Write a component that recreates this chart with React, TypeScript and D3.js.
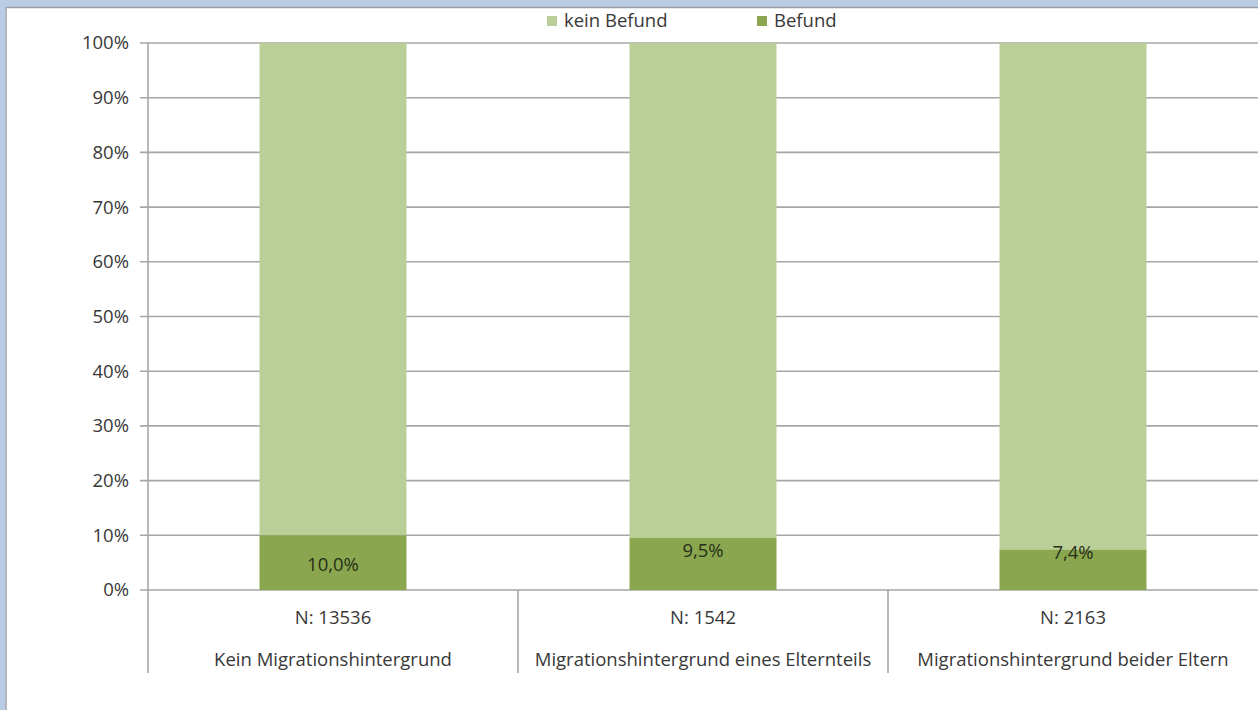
import React from "react";
import * as d3 from "d3";

const categories = [
  "Kein Migrationshintergrund",
  "Migrationshintergrund eines Elternteils",
  "Migrationshintergrund beider Eltern",
];
const nLabels = ["N: 13536", "N: 1542", "N: 2163"];
const befund = [10.0, 9.5, 7.4];
const keinBefund = befund.map((v) => 100 - v);
const valueLabels = ["10,0%", "9,5%", "7,4%"];
// vertical anchor of each data label, in value units (as placed in the original)
const labelAnchor = [4.6, 7.3, 6.9];
const yTicks = [0, 10, 20, 30, 40, 50, 60, 70, 80, 90, 100];
const seriesNames = ["kein Befund", "Befund"];

const W = 1258;
const H = 710;
const LIGHT = "#bacf97";
const DARK = "#8aa64e";
const GRID = "#a6a6a6";
const TEXT = "#383838";
const FONT = "'Open Sans', 'Noto Sans', sans-serif";
const FS = 18.5;

export default function App() {
  const x = d3.scaleBand<string>().domain(categories).range([148, 1258]).paddingInner(0).paddingOuter(0);
  const y = d3.scaleLinear().domain([0, 100]).range([590, 43]);
  const bw = 147;

  return (
    <div style={{ position: "fixed", left: 0, top: 0, width: W, height: H, background: "#fff" }}>
      <svg width={W} height={H} style={{ display: "block" }} fontFamily={FONT}>
        <rect x={0} y={0} width={W} height={H} fill="#fff" />
        {/* window frame */}
        <rect x={0} y={0} width={W} height={7} fill="#b9cce4" />
        <rect x={0} y={0} width={5} height={H} fill="#b9cce4" />
        <line x1={6} x2={W} y1={7.5} y2={7.5} stroke="#9a9ea6" strokeWidth={1.5} />
        <line x1={6} x2={6} y1={7} y2={H} stroke="#9a9ea6" strokeWidth={1.5} />

        {/* gridlines */}
        {yTicks.map((t) => (
          <g key={t}>
            <line x1={140} x2={W} y1={y(t)} y2={y(t)} stroke={GRID} strokeWidth={1.6} />
            <text x={129} y={y(t)} dy="0.35em" textAnchor="end" fontSize={FS} fill={TEXT}>
              {t}%
            </text>
          </g>
        ))}

        {/* bars */}
        {categories.map((c, i) => {
          const cx = (x(c) as number) + x.bandwidth() / 2;
          return (
            <g key={c}>
              <rect x={cx - bw / 2} y={y(100)} width={bw} height={y(befund[i]) - y(100)} fill={LIGHT} />
              <rect x={cx - bw / 2} y={y(befund[i])} width={bw} height={y(0) - y(befund[i])} fill={DARK} />
              <text x={cx} y={y(labelAnchor[i])} dy="0.35em" textAnchor="middle" fontSize={FS} fill="#26301a">
                {valueLabels[i]}
              </text>
              <text x={cx} y={618} dy="0.35em" textAnchor="middle" fontSize={FS} fill={TEXT}>
                {nLabels[i]}
              </text>
              <text x={cx} y={660} dy="0.35em" textAnchor="middle" fontSize={FS} fill={TEXT}>
                {categories[i]}
              </text>
            </g>
          );
        })}

        {/* axis lines */}
        <line x1={148} x2={148} y1={43} y2={673} stroke={GRID} strokeWidth={1.6} />
        {categories.slice(1).map((c) => (
          <line key={c} x1={x(c) as number} x2={x(c) as number} y1={590} y2={673} stroke={GRID} strokeWidth={1.6} />
        ))}

        {/* legend */}
        {seriesNames.map((s, i) => {
          const lx = i === 0 ? 547 : 757;
          return (
            <g key={s}>
              <rect x={lx} y={16} width={10} height={10} fill={i === 0 ? LIGHT : DARK} />
              <text x={lx + 17} y={21} dy="0.35em" fontSize={FS} fill={TEXT}>
                {s}
              </text>
            </g>
          );
        })}
      </svg>
    </div>
  );
}
